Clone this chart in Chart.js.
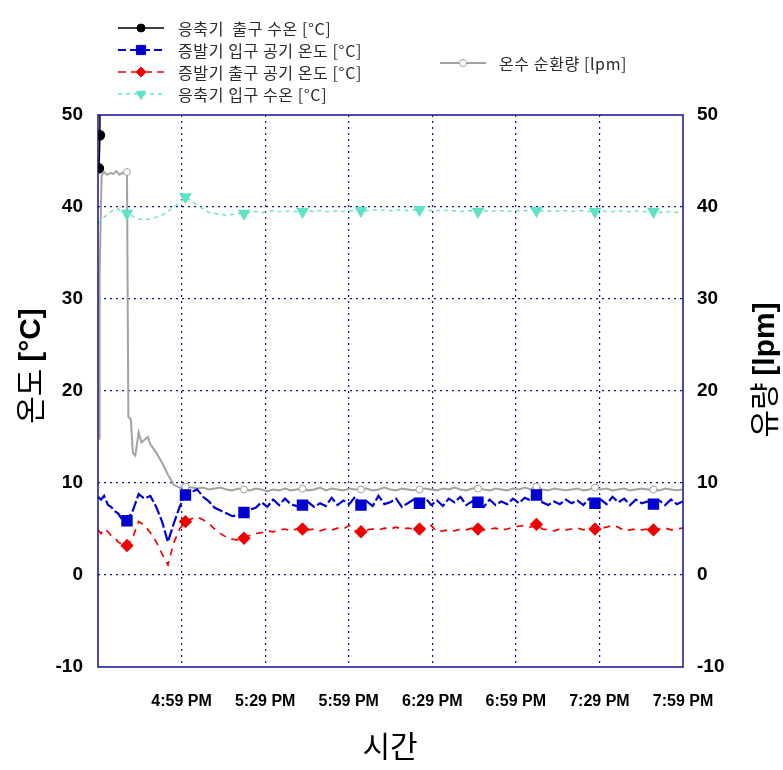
<!DOCTYPE html>
<html>
<head>
<meta charset="utf-8">
<script src="https://cdn.jsdelivr.net/npm/chart.js@4.4.1/dist/chart.umd.min.js"></script>
<style>
  html, body { margin: 0; padding: 0; background: #fff; }
</style>
</head>
<body>
<canvas id="chart" width="783" height="770"></canvas>
<script>
// time axis: minutes after 4:29 PM
const START_MIN = 16 * 60 + 29;
const lateTimes = Array.from({ length: 96 }, (_, i) => Math.round((10.4 + 2.1 * i) * 10) / 10);
const markerTimes = lateTimes.filter((_, i) => i % 10 === 0);

const seriesNames = [
  "응축기  출구 수온 [°C]",
  "증발기 입구 공기 온도 [°C]",
  "증발기 출구 공기 온도 [°C]",
  "응축기 입구 수온 [°C]",
  "온수 순환량 [lpm]"
];

// condenser outlet water (only the first few readings)
const blackT = [0.7, 0.7, 0.35];
const blackV = [56, 47.8, 44.2];

// evaporator inlet air
const blueEarlyT = [0, 1.1, 2.2, 3.6, 4.7, 5.7, 7.2, 8.3, 9.5];
const blueEarlyV = [8.5, 8.2, 8.6, 7.6, 7.4, 7.0, 6.7, 6.2, 5.8];
const blueLateV = [
  5.9, 7.0, 8.8, 8.3, 8.6, 7.4, 5.8, 3.6, 5.6, 7.4,
  8.7, 9.0, 9.3, 8.5, 8.0, 7.3, 7.0, 6.7, 6.4, 6.5,
  6.8, 7.1, 7.3, 7.9, 7.4, 8.2, 7.6, 8.3, 7.7, 7.5,
  7.6, 7.9, 7.4, 7.8, 7.5, 8.4, 7.6, 8.1, 7.7, 8.5,
  7.6, 8.0, 7.5, 8.6, 7.7, 7.9, 8.3, 7.4, 7.8, 8.2,
  7.8, 8.4, 7.6, 8.1, 7.5, 8.3, 7.9, 8.5, 7.6, 8.0,
  7.9, 7.4, 8.2, 7.6, 8.0, 7.7, 8.3, 7.8, 8.4, 8.1,
  8.7, 7.9, 7.6, 8.0, 7.7, 8.2, 7.8, 8.1, 7.6, 8.3,
  7.8, 8.2, 7.7, 8.5, 7.9, 8.3, 7.6, 8.2, 7.8, 8.0,
  7.7, 8.1, 7.6, 8.2, 7.7, 8.0
];

// evaporator outlet air
const redEarlyT = [0, 1.1, 2.2, 3.6, 4.7, 5.7, 7.2, 8.3, 9.5];
const redEarlyV = [4.9, 4.5, 5.0, 4.7, 4.3, 4.2, 3.6, 3.4, 3.1];
const redLateV = [
  3.2, 4.1, 5.8, 5.4, 4.6, 3.6, 2.3, 1.1, 3.5, 5.0,
  5.8, 6.1, 6.3, 6.0, 5.6, 5.0, 4.5, 4.1, 3.9, 3.8,
  4.0, 4.3, 4.5, 4.6, 4.8, 4.7, 4.9, 5.0, 4.8, 5.0,
  5.0, 4.9, 5.0, 4.8, 5.0, 4.9, 5.1, 5.0, 5.4, 4.8,
  4.7, 4.9, 5.0, 4.9, 5.1, 5.0, 5.2, 5.0, 5.1, 5.0,
  5.0, 5.1, 5.4, 4.7, 4.8, 4.9, 4.8, 5.0, 4.9, 5.1,
  5.0, 4.9, 5.0, 5.1, 4.9, 5.0, 5.2, 5.3, 5.4, 5.2,
  5.5, 5.0, 4.9, 4.8, 5.0, 4.9, 5.0, 5.1, 4.9, 5.1,
  5.0, 5.1, 5.2, 5.4, 5.2, 4.8, 4.9, 5.0, 4.9, 5.0,
  4.9, 5.0, 5.1, 4.9, 5.0, 5.1
];

// condenser inlet water
const cyanEarlyT = [0, 1.1, 2.2, 3.6, 4.7, 5.7, 7.2, 8.3, 9.5];
const cyanEarlyV = [38.2, 38.6, 38.9, 39.2, 39.5, 39.7, 39.8, 39.6, 39.4];
const cyanLateV = [
  39.3, 39.0, 38.7, 38.6, 38.7, 38.9, 39.1, 39.5, 40.0, 40.5,
  41.1, 40.7, 40.2, 39.8, 39.4, 39.3, 39.2, 39.1, 39.2, 39.3,
  39.3, 39.4, 39.5, 39.4, 39.5, 39.6, 39.5, 39.5, 39.6, 39.5,
  39.5, 39.6, 39.5, 39.6, 39.5, 39.5, 39.6, 39.5, 39.6, 39.6,
  39.6, 39.6, 39.7, 39.6, 39.7, 39.6, 39.7, 39.7, 39.6, 39.7,
  39.7, 39.7, 39.6, 39.6, 39.7, 39.6, 39.6, 39.5, 39.6, 39.6,
  39.5, 39.6, 39.5, 39.6, 39.6, 39.5, 39.6, 39.6, 39.6, 39.7,
  39.6, 39.6, 39.6, 39.5, 39.6, 39.6, 39.5, 39.6, 39.6, 39.5,
  39.5, 39.6, 39.5, 39.5, 39.6, 39.5, 39.5, 39.6, 39.5, 39.5,
  39.5, 39.4, 39.5, 39.5, 39.4, 39.5
];

// hot water flow (right axis)
const grayEarlyT = [0.4, 0.6, 1.3, 2.2, 3.3, 4.4, 5.5, 6.6, 7.7, 8.8, 9.7, 10.7, 10.9, 11.8, 13.4, 15.6, 17.9];
const grayEarlyV = [14.8, 33.0, 43.4, 43.8, 43.5, 43.7, 43.6, 43.9, 43.5, 43.7, 43.6, 27.7, 17.2, 16.9, 13.0, 14.4, 15.0];
const grayLateV = [
  43.8, 13.3, 15.5, 14.7, 14.2, 13.3, 12.2, 10.9, 9.8, 9.5,
  9.6, 9.5, 9.4, 9.5, 9.3, 9.4, 9.5, 9.3, 9.2, 9.4,
  9.3, 9.2, 9.4, 9.3, 9.1, 9.3, 9.2, 9.4, 9.2, 9.3,
  9.4, 9.2, 9.3, 9.5, 9.2, 9.4, 9.3, 9.2, 9.4, 9.3,
  9.3, 9.4, 9.2, 9.3, 9.5, 9.3, 9.2, 9.4, 9.3, 9.2,
  9.3, 9.4, 9.3, 9.2, 9.4, 9.3, 9.5, 9.3, 9.2, 9.4,
  9.4, 9.3, 9.2, 9.4, 9.3, 9.2, 9.4, 9.3, 9.5, 9.3,
  9.6, 9.3, 9.2, 9.4, 9.3, 9.2, 9.3, 9.4, 9.2, 9.3,
  9.5, 9.3, 9.4, 9.2, 9.3, 9.4, 9.2, 9.3, 9.4, 9.3,
  9.3, 9.2, 9.4, 9.3, 9.2, 9.3
];

function buildSeries(extraT, extraV, lateV) {
  const pts = extraT.map((t, i) => ({ x: t, y: extraV[i] }));
  lateTimes.forEach((t, i) => pts.push({ x: t, y: lateV[i] }));
  return pts.sort((a, b) => a.x - b.x);
}

const markerRadius = (r) => (ctx) => (ctx.raw && markerTimes.includes(ctx.raw.x) ? r : 0);

function timeLabel(v) {
  if (v === 0) return "";
  const m = START_MIN + v;
  const h = Math.floor(m / 60) % 12 || 12;
  const mm = String(m % 60).padStart(2, "0");
  return h + ":" + mm + " PM";
}

const NAVY = "#10108c";

// frame, axis titles and the two-column legend
const decorPlugin = {
  id: "decor",
  afterDraw(chart) {
    const { ctx, chartArea: a } = chart;
    ctx.save();
    ctx.strokeStyle = NAVY;
    ctx.lineWidth = 1.5;
    ctx.setLineDash([]);
    ctx.strokeRect(a.left, a.top, a.right - a.left, a.bottom - a.top);

    // axis titles
    ctx.fillStyle = "#000";
    ctx.textBaseline = "middle";
    const twoPart = (x, y, p1, p2) => {
      ctx.save();
      ctx.translate(x, y);
      ctx.rotate(-Math.PI / 2);
      ctx.font = '30px "Noto Sans CJK KR"';
      const w1 = ctx.measureText(p1).width;
      ctx.font = 'bold 30px "Liberation Sans"';
      const w2 = ctx.measureText(p2).width;
      const x0 = -(w1 + w2) / 2;
      ctx.textAlign = "left";
      ctx.font = '30px "Noto Sans CJK KR"';
      ctx.fillText(p1, x0, 0);
      ctx.font = 'bold 30px "Liberation Sans"';
      ctx.fillText(p2, x0 + w1, 2);
      ctx.restore();
    };
    twoPart(30, 366, "온도 ", "[°C]");
    twoPart(764, 370, "유량 ", "[lpm]");
    ctx.textAlign = "center";
    ctx.font = '30px "Noto Sans CJK KR"';
    ctx.fillText("시간", 390, 746);

    // legend
    const spots = [
      { x: 118, y: 28 }, { x: 118, y: 50 }, { x: 118, y: 72 }, { x: 118, y: 94 }, { x: 440, y: 63 }
    ];
    spots.forEach((s, i) => {
      const ds = chart.data.datasets[i];
      ctx.lineWidth = ds.borderWidth;
      ctx.strokeStyle = ds.borderColor;
      ctx.setLineDash(ds.legendDash || []);
      ctx.beginPath();
      ctx.moveTo(s.x, s.y);
      ctx.lineTo(s.x + 46, s.y);
      ctx.stroke();
      ctx.setLineDash([]);
      ctx.fillStyle = ds.pointBackgroundColor;
      ctx.strokeStyle = ds.pointBorderColor;
      ctx.lineWidth = 1;
      Chart.helpers.drawPoint(ctx, {
        pointStyle: ds.pointStyle, radius: ds.legendRadius,
        rotation: ds.pointRotation || 0, borderWidth: 1
      }, s.x + 23, s.y);
      ctx.fillStyle = "#2a2a2a";
      ctx.textAlign = "left";
      ctx.font = '16px "Noto Sans CJK KR"';
      ctx.letterSpacing = "0.6px";
      ctx.fillText(seriesNames[i], s.x + (i === 4 ? 59 : 60), s.y + 1);
      ctx.letterSpacing = "0px";
    });
    ctx.restore();
  }
};

new Chart(document.getElementById("chart"), {
  type: "line",
  plugins: [decorPlugin],
  data: {
    datasets: [
      {
        label: seriesNames[0],
        data: blackT.map((t, i) => ({ x: t, y: blackV[i] })),
        borderColor: "#000", borderWidth: 1.5,
        pointStyle: "circle", pointRadius: [0, 4.5, 4.5], legendRadius: 4,
        pointBackgroundColor: "#000", pointBorderColor: "#000",
        yAxisID: "y"
      },
      {
        label: seriesNames[1],
        data: buildSeries(blueEarlyT, blueEarlyV, blueLateV),
        borderColor: "#0000d0", borderWidth: 2.2, borderDash: [11, 3], legendDash: [8, 4],
        pointStyle: "rect", pointRadius: markerRadius(6.5), legendRadius: 6.5,
        pointBackgroundColor: "#0000d0", pointBorderColor: "#0000d0",
        yAxisID: "y"
      },
      {
        label: seriesNames[2],
        data: buildSeries(redEarlyT, redEarlyV, redLateV),
        borderColor: "#f00000", borderWidth: 1.7, borderDash: [7, 6], legendDash: [8, 5],
        pointStyle: "rectRot", pointRadius: markerRadius(5.5), legendRadius: 5,
        pointBackgroundColor: "#f00000", pointBorderColor: "#f00000",
        yAxisID: "y"
      },
      {
        label: seriesNames[3],
        data: buildSeries(cyanEarlyT, cyanEarlyV, cyanLateV),
        borderColor: "#66e3c6", borderWidth: 1.4, borderDash: [4, 4], legendDash: [4, 4],
        pointStyle: "triangle", pointRotation: 180, pointRadius: markerRadius(6), legendRadius: 5.5,
        pointBackgroundColor: "#5fe3c4", pointBorderColor: "#5fe3c4",
        yAxisID: "y"
      },
      {
        label: seriesNames[4],
        data: buildSeries(grayEarlyT, grayEarlyV, grayLateV),
        borderColor: "#a2a2a2", borderWidth: 2,
        pointStyle: "circle", pointRadius: markerRadius(3.5), legendRadius: 3.5,
        pointBackgroundColor: "#fff", pointBorderColor: "#a2a2a2", pointBorderWidth: 1,
        yAxisID: "y2"
      }
    ]
  },
  options: {
    responsive: false,
    animation: false,
    events: [],
    layout: { padding: { top: 115, left: 0, right: 0, bottom: 0 } },
    elements: { line: { tension: 0 }, point: { hoverRadius: 0 } },
    plugins: { legend: { display: false }, tooltip: { enabled: false } },
    scales: {
      x: {
        type: "linear", min: 0, max: 210,
        afterFit: (s) => { s.height = 103; },
        border: { display: false, dash: [2, 4] },
        grid: {
          drawTicks: false, lineWidth: 1.2,
          color: (c) => (c.tick && (c.tick.value === 0 || c.tick.value === 210) ? "rgba(0,0,0,0)" : NAVY)
        },
        ticks: {
          stepSize: 30, autoSkip: false, maxRotation: 0, padding: 25,
          color: "#000", font: { family: '"Liberation Sans Narrow", "Liberation Sans"', weight: "bold", size: 16 },
          callback: timeLabel
        }
      },
      y: {
        position: "left", min: -10, max: 50,
        afterFit: (s) => { s.width = 98; },
        border: { display: false, dash: [2, 4] },
        grid: {
          drawTicks: false, lineWidth: 1.2,
          color: (c) => (c.tick && (c.tick.value === -10 || c.tick.value === 50) ? "rgba(0,0,0,0)" : NAVY)
        },
        ticks: { stepSize: 10, padding: 15, color: "#000", font: { family: '"Liberation Sans"', weight: "bold", size: 19 } }
      },
      y2: {
        position: "right", min: -10, max: 50,
        afterFit: (s) => { s.width = 100; },
        border: { display: false },
        grid: { display: false, drawTicks: false },
        ticks: { stepSize: 10, padding: 14, color: "#000", font: { family: '"Liberation Sans"', weight: "bold", size: 19 } }
      }
    }
  }
});
</script>
</body>
</html>
